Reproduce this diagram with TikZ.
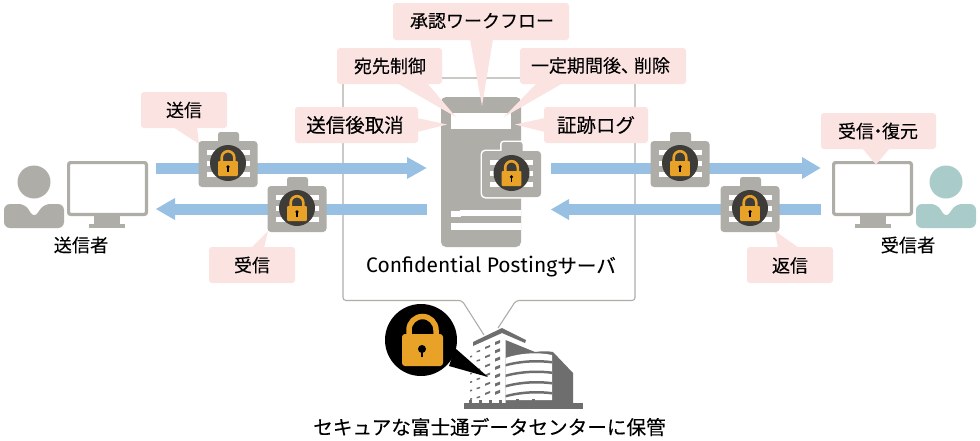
\documentclass[tikz,border=0pt]{standalone}
\usepackage{fontspec}
\setmainfont{Noto Sans CJK JP}[FakeBold=0.12]
\newfontfamily\latinfont{Fira Sans}
\definecolor{calloutpink}{HTML}{FBE3E2}
\definecolor{flowblue}{HTML}{97C0E3}
\definecolor{devgray}{HTML}{AEADA7}
\definecolor{tealuser}{HTML}{A9CBCA}
\definecolor{circdark}{HTML}{3E3C38}
\definecolor{lockorange}{HTML}{E9A228}
\definecolor{bldgray}{HTML}{6E6E6E}
\tikzset{
 x=1pt,y=-1pt,
 callout/.style={fill=calloutpink,draw=none},
 calloutbox/.style={fill=calloutpink,draw=none,rounded corners=3},
 calloutlabel/.style={font=\fontsize{18}{20}\selectfont,text=black,inner sep=0pt},
 calloutlarge/.style={font=\fontsize{19.5}{22}\selectfont,text=black,inner sep=0pt},
 caption/.style={font=\fontsize{18.2}{20}\selectfont,text=black,inner sep=0pt},
 captionlarge/.style={font=\fontsize{19.6}{22}\selectfont,text=black,inner sep=0pt},
 flow/.style={fill=flowblue,draw=none},
}
\newcommand{\briefcaseparts}[1]{%
 \path[#1,rounded corners=2.5] (-10,-31) rectangle (11,-15);
 \path[#1,rounded corners=3.5] (-29.5,-22) rectangle (29.5,24);
}
\newcommand{\briefcase}[2]{%
 \begin{scope}[shift={(#1,#2)}]
 \briefcaseparts{fill=devgray}
 \foreach \yy in {-10.5,0.5,11.5}{
  \fill[white] (-21.5,\yy-2.3) rectangle (21.5,\yy+2.3);}
 \fill[circdark] (0,0) circle (18);
 \fill[lockorange,rounded corners=1] (-9.8,-2) rectangle (9.8,13);
 \draw[lockorange,line width=2.6] (-6.3,-1.5) -- (-6.3,-5.5) arc[start angle=180,end angle=360,radius=6.3] -- (6.3,-1.5);
 \fill[black] (0,3.8) circle (1.8);
 \fill[black] (-0.7,3.8) rectangle (0.7,8.5);
 \end{scope}}
\begin{document}
\begin{tikzpicture}
\useasboundingbox (0,0) rectangle (980,440);
\fill[white] (0,0) rectangle (980,440);
% server frame
\draw[devgray,line width=1.1,rounded corners=3,fill=white]
 (484,335) -- (462,300.5) -- (343,300.5) -- (343,78) -- (635,78) -- (635,300.5) -- (516,300.5) -- (498,328);
% blue arrows
\fill[flow] (156,162.5) rectangle (408,173.5);
\fill[flow] (407,157) -- (426.5,168) -- (407,179) -- cycle;
\fill[flow] (175,204) rectangle (427,214.5);
\fill[flow] (175,198) -- (156,209) -- (175,220) -- cycle;
\fill[flow] (551,162.5) rectangle (803,173.5);
\fill[flow] (802,157) -- (820.5,168) -- (802,179) -- cycle;
\fill[flow] (569,204) rectangle (821,214.5);
\fill[flow] (569,199) -- (551,209.5) -- (569,220) -- cycle;
% server
\fill[devgray,rounded corners=5] (441,97) rectangle (521,247);
\fill[white] (451,113) rectangle (511,129);
\fill[white] (451,211) rectangle (461,217);
\fill[white] (460,210) rectangle (521,216);
\fill[white] (451,223) rectangle (521,230);
% callouts
\fill[calloutbox] (393,3) rectangle (569,40);
\fill[callout] (470,39) -- (493,39) -- (482,106) -- cycle;
\fill[calloutbox] (337,48) rectangle (442,84);
\fill[callout] (397,83) -- (427,83) -- (456,117) -- cycle;
\fill[calloutbox] (520,48) rectangle (686,84);
\fill[callout] (537,83) -- (563,83) -- (504,117) -- cycle;
\fill[calloutbox] (295,107) rectangle (418,143);
\fill[callout] (417,118) -- (417,132) -- (447,124.5) -- cycle;
\fill[calloutbox] (544,107) rectangle (648,143);
\fill[callout] (545,118) -- (545,132) -- (515,124.5) -- cycle;
\fill[calloutbox] (141,92) rectangle (227,128);
\fill[callout] (173,127) -- (197,127) -- (199,144) -- cycle;
\fill[calloutbox] (209,247) rectangle (295,283);
\fill[callout] (251,248) -- (264,248) -- (268,231) -- cycle;
\fill[calloutbox] (821,113) rectangle (936,149);
\fill[calloutbox] (747,247) rectangle (833,283);
\fill[callout] (778,248) -- (799,248) -- (775,231) -- cycle;
% callout text
\node[calloutlabel] (t1) at (482,21) {承認ワークフロー};
\node[calloutlabel] (t2) at (390,66) {宛先制御};
\node[calloutlabel] (t3) at (600.5,65.5) {一定期間後、\kern-5pt 削除};
\node[calloutlarge] (t4) at (355,125) {送信後取消};
\node[calloutlarge] (t5) at (596,125) {証跡ログ};
\node[calloutlabel] (t6) at (184,110) {送信};
\node[calloutlabel] (t7) at (252,265) {受信};
\node[calloutlabel] (t8) at (878,131) {受信\kern-5pt ・\kern-5pt 復元};
\node[calloutlabel] (t9) at (790,265.5) {返信};
% briefcases
\briefcase{228}{163}
\briefcase{297}{208}
\briefcase{680}{163}
\briefcase{750}{208}
\begin{scope}[shift={(511.5,173)}]
\briefcaseparts{draw=white,line width=3}
\end{scope}
\briefcase{511.5}{173}
% left user
\fill[devgray] (34,182) circle (16.5);
\fill[devgray,rounded corners=6] (4,204) -- (4,228) -- (64,228) -- (64,204) -- (44,204) -- (34,218) -- (25,204) -- cycle;
% left monitor
\draw[devgray,line width=3.2,fill=white,rounded corners=2] (68.6,162.6) rectangle (146.4,214.4);
\fill[devgray] (94,216) rectangle (120,225);
\fill[devgray] (89,224) rectangle (125,228);
% right monitor
\draw[devgray,line width=3.2,fill=white,rounded corners=2] (833.6,162.6) rectangle (911.4,214.4);
\fill[devgray] (860,216) rectangle (886,225);
\fill[devgray] (855,224) rectangle (891,228);
% tail of the callout over the monitor
\fill[callout] (862,148) -- (890,148) -- (876,164.5) -- cycle;
% right user
\fill[tealuser] (946,182) circle (16.5);
\fill[tealuser,rounded corners=6] (916,204) -- (916,228) -- (976,228) -- (976,204) -- (956,204) -- (946,218) -- (937,204) -- cycle;
% captions
\node[caption] (s1) at (81,245) {送信者};
\node[caption] (s2) at (908,245) {受信者};
\node[captionlarge] (srv) at (491,267) {{\latinfont\fontsize{21}{22}\selectfont Confidential Posting}サーバ};
\node[captionlarge] (dc) at (489.5,427) {セキュアな富士通データセンターに保管};
% building
\fill[bldgray] (464,403) rectangle (583,408.5);
\foreach \xx in {470,480,490,500,517,533}{\fill[bldgray] (\xx-1.5,400) rectangle (\xx+1.5,404);}
\fill[bldgray] (505.5,340) -- (535,352) .. controls (542,351) and (548,351) .. (553,352) -- (573,373) -- (573,404) -- (505.5,404) -- cycle;
\fill[white] (505.5,358) .. controls (520,353) and (538,352) .. (552,355) -- (552,400) -- (505.5,400) -- cycle;
\foreach \yy in {362,372.5,383,393}{
 \fill[bldgray] (505.5,\yy+2) .. controls (520,\yy-2) and (538,\yy-3) .. (552,\yy-1) -- (552,\yy+1.5) .. controls (538,\yy-0.5) and (520,\yy+0.5) .. (505.5,\yy+4.5) -- cycle;
}
\foreach \xx in {517,533}{\fill[bldgray] (\xx-1.5,399) rectangle (\xx+1.5,404);}
\fill[bldgray] (473,342) -- (502,328) -- (526,340) -- (525,343) -- (502,333) -- (473,346) -- cycle;
\foreach \yy in {0,...,6}{
 \fill[bldgray] (495,342+\yy*8.3) -- (500,340+\yy*8.3) -- (500,343+\yy*8.3) -- (495,345+\yy*8.3) -- cycle;
}
\foreach \yy in {0,...,5}{
 \fill[bldgray] (485,347+\yy*9.2) -- (490,345+\yy*9.2) -- (490,347+\yy*9.2) -- (485,349+\yy*9.2) -- cycle;
 \fill[bldgray] (476.5,351+\yy*9.2) -- (480,350+\yy*9.2) -- (480,351.5+\yy*9.2) -- (476.5,352.5+\yy*9.2) -- cycle;
 \fill[bldgray] (470,356+\yy*8.5) -- (472,355.5+\yy*8.5) -- (472,357+\yy*8.5) -- (470,357.5+\yy*8.5) -- cycle;
}
% lock bubble
\fill[black] (455,348) -- (488,377) -- (449,366) -- cycle;
\fill[black] (421,340) circle (36);
\fill[lockorange,rounded corners=3] (402,334) rectangle (443,366);
\draw[lockorange,line width=5.5] (409,336) -- (409,330) arc[start angle=180,end angle=360,radius=13.5] -- (436,336);
\fill[black] (422,349) circle (4);
\fill[black] (420.7,349) rectangle (423.3,357);
\end{tikzpicture}
\end{document}
